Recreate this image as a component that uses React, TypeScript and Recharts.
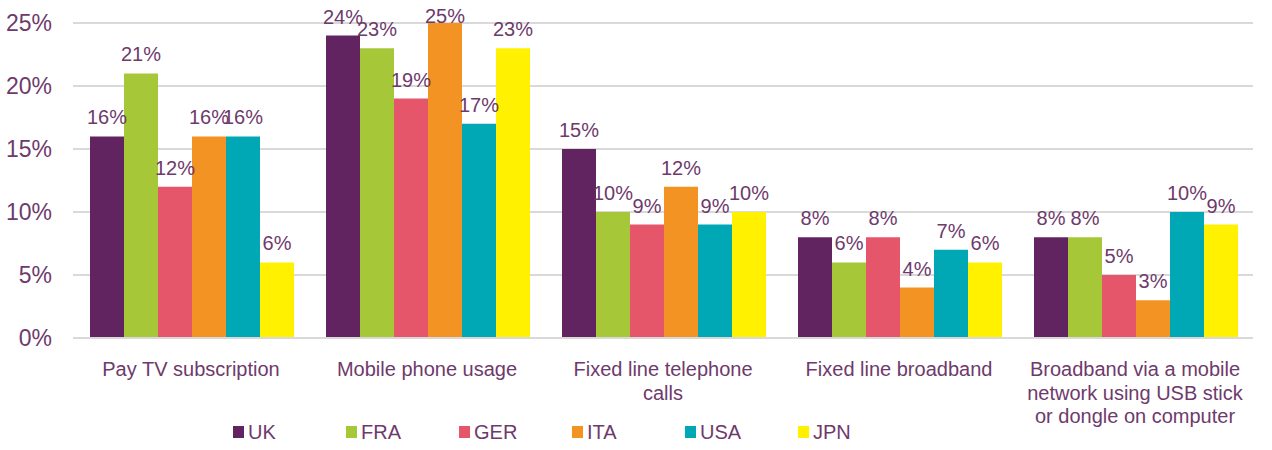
import React from "react";
import { BarChart, Bar, XAxis, YAxis, CartesianGrid, Legend, LabelList } from "recharts";

// Share of people (%) per service, by country
const CATEGORIES = [
  "Pay TV subscription",
  "Mobile phone usage",
  "Fixed line telephone calls",
  "Fixed line broadband",
  "Broadband via a mobile network using USB stick or dongle on computer",
];
const UK = [16, 24, 15, 8, 8];
const FRA = [21, 23, 10, 6, 8];
const GER = [12, 19, 9, 8, 5];
const ITA = [16, 25, 12, 4, 3];
const USA = [16, 17, 9, 7, 10];
const JPN = [6, 23, 10, 6, 9];
const Y_TICKS = [0, 5, 10, 15, 20, 25];

const SERIES = [
  { key: "UK", values: UK, color: "#622461" },
  { key: "FRA", values: FRA, color: "#a6c838" },
  { key: "GER", values: GER, color: "#e5566a" },
  { key: "ITA", values: ITA, color: "#f39323" },
  { key: "USA", values: USA, color: "#00a7b5" },
  { key: "JPN", values: JPN, color: "#fff100" },
];

const data = CATEGORIES.map((name, i) => {
  const row: Record<string, string | number> = { name };
  SERIES.forEach((s) => (row[s.key] = s.values[i]));
  return row;
});

const FONT = '"Liberation Sans", Arial, sans-serif';
const TEXT = "#6e3a6c";
const GRID = "#d9d9d9";
const PLOT_TOP = 23;

function wrap(label: string, maxChars = 23) {
  const lines: string[] = [];
  let cur = "";
  label.split(" ").forEach((w) => {
    const next = cur ? `${cur} ${w}` : w;
    if (next.length > maxChars && cur) {
      lines.push(cur);
      cur = w;
    } else {
      cur = next;
    }
  });
  if (cur) lines.push(cur);
  return lines;
}

function CategoryTick({ x, y, payload }: any) {
  const lines = wrap(String(payload.value));
  return (
    <text x={x} y={y} textAnchor="middle" fill={TEXT} fontSize={20} fontFamily={FONT}>
      {lines.map((l, i) => (
        <tspan key={i} x={x} dy={i === 0 ? 30 : 23.5}>
          {l}
        </tspan>
      ))}
    </text>
  );
}

// value label above each bar, kept inside the plot area at the top
function ValueLabel({ x, y, width, value }: any) {
  const baseline = Math.max(Number(y) - 12, PLOT_TOP);
  return (
    <text x={Number(x) + Number(width) / 2} y={baseline} textAnchor="middle" fill={TEXT} fontSize={20} fontFamily={FONT}>
      {`${value}%`}
    </text>
  );
}

function LegendRow() {
  return (
    <div style={{ height: 30, display: "flex", paddingLeft: 233, fontFamily: FONT, fontSize: 20, color: TEXT }}>
      {SERIES.map((s) => (
        <div key={s.key} style={{ width: 113, display: "flex", alignItems: "center", height: 30 }}>
          <span style={{ width: 11, height: 12, background: s.color, marginRight: 4, display: "inline-block" }} />
          <span>{s.key}</span>
        </div>
      ))}
    </div>
  );
}

export default function App() {
  return (
    <div style={{ position: "absolute", left: 0, top: 0, background: "#fff" }}>
      <BarChart
        width={1272}
        height={450}
        data={data}
        margin={{ top: PLOT_TOP, right: 19, left: 0, bottom: 3 }}
        barCategoryGap={17}
        barGap={0}
      >
        <CartesianGrid vertical={false} stroke={GRID} strokeWidth={2} />
        <XAxis
          dataKey="name"
          interval={0}
          height={79}
          tickLine={false}
          axisLine={{ stroke: GRID, strokeWidth: 2 }}
          tick={<CategoryTick />}
        />
        <YAxis
          width={73}
          domain={[0, 25]}
          ticks={Y_TICKS}
          tickFormatter={(v) => `${v}%`}
          axisLine={false}
          tickLine={false}
          tickSize={0}
          tickMargin={21}
          tick={{ fill: TEXT, fontSize: 23, fontFamily: FONT }}
        />
        <Legend verticalAlign="bottom" content={() => <LegendRow />} wrapperStyle={{ left: 0, width: 1272 }} />
        {SERIES.map((s) => (
          <Bar key={s.key} dataKey={s.key} fill={s.color} isAnimationActive={false}>
            <LabelList dataKey={s.key} content={<ValueLabel />} />
          </Bar>
        ))}
      </BarChart>
    </div>
  );
}
